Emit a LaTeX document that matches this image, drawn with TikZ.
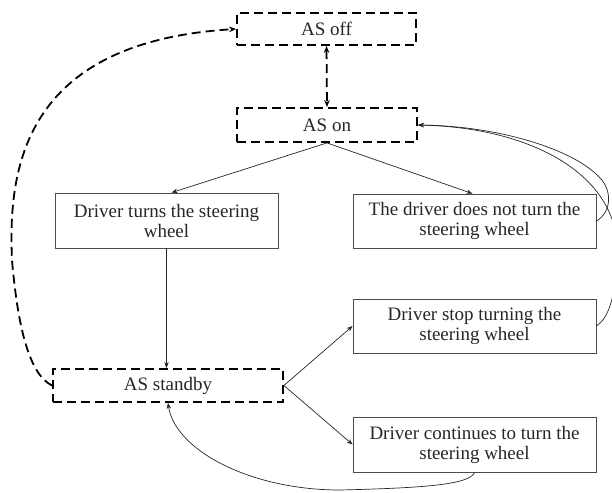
\documentclass[tikz,border=0pt]{standalone}
\usepackage{fontspec}
\setmainfont{Liberation Serif}
\usetikzlibrary{arrows.meta}
\begin{document}
\begin{tikzpicture}[x=1pt,y=-1pt,
  dbox/.style={draw=black, text=black!85, line width=1.8pt, dash pattern=on 9pt off 5pt, inner sep=0pt, font=\fontsize{19}{20}\selectfont},
  sbox/.style={draw=black!70, text=black!85, line width=0.8pt, inner sep=0pt, align=center, font=\fontsize{19}{20}\selectfont},
  arr/.style={-{Stealth[length=6pt,width=4.5pt]}, line width=0.7pt, black!85},
  darr/.style={line width=1.8pt, dash pattern=on 9pt off 5pt, -{Stealth[length=7pt,width=5.5pt]}}
]
\useasboundingbox (0,0) rectangle (612,492);
\node[dbox, minimum width=179pt, minimum height=32pt] (off) at (326.5,29) {AS off};
\node[dbox, minimum width=180pt, minimum height=34pt] (on) at (327,125) {AS on};
\node[sbox, minimum width=223pt, minimum height=55pt] (turns) at (166.5,220.5) {Driver turns the steering\\wheel};
\node[sbox, minimum width=243pt, minimum height=54pt] (notturn) at (474.5,221) {The driver does not turn the\\steering wheel};
\node[sbox, minimum width=243pt, minimum height=54pt] (stop) at (474.5,326) {Driver stop turning the\\steering wheel};
\node[dbox, minimum width=230pt, minimum height=33pt] (standby) at (168,385.5) {AS standby};
\node[sbox, minimum width=243pt, minimum height=55pt] (cont) at (474.5,444.5) {Driver continues to turn the\\steering wheel};

\draw[darr, {Stealth[length=7pt,width=5.5pt]}-{Stealth[length=7pt,width=5.5pt]}] (off.south) -- (on.north);
\draw[arr] (on.south) -- ([xshift=5pt]turns.north);
\draw[arr] (on.south) -- ([xshift=-2pt]notturn.north);
\draw[arr] (turns.south) -- (turns.south |- standby.north);
\draw[arr] (standby.east) -- (stop.west);
\draw[arr] (standby.east) -- (cont.west);
\draw[arr] (notturn.east) .. controls (612,212) and (612,190) .. (600,178) .. controls (575,150) and (500,126) .. (on.east);
\draw[arr] (stop.east) .. controls (608,318) and (616,300) .. (617,250) .. controls (618,180) and (540,128) .. (on.east);
\draw[arr] (cont.south) .. controls (470,485) and (420,488) .. (340,490) .. controls (250,490) and (175,450) .. (standby.south);
\draw[darr] (standby.west) .. controls (30,375) and (18,330) .. (12,260) .. controls (8,170) and (22,42) .. (off.west);
\end{tikzpicture}
\end{document}
